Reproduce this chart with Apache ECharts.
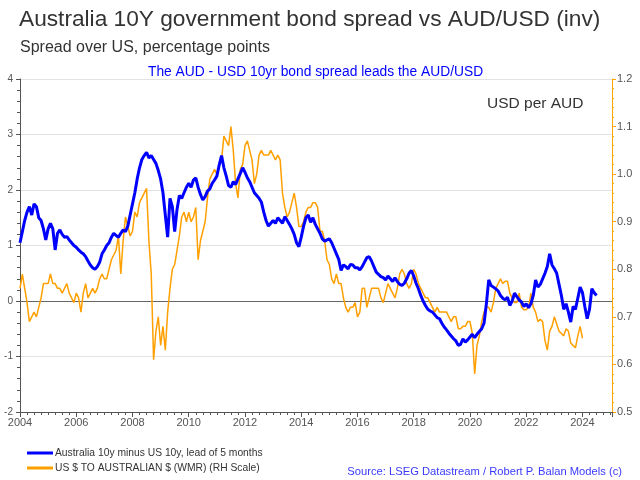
<!DOCTYPE html>
<html><head><meta charset="utf-8">
<script src="https://cdn.jsdelivr.net/npm/echarts@6/dist/echarts.min.js"></script>
<style>html,body{margin:0;padding:0;background:#fff}#c{width:640px;height:480px}</style>
</head><body><div id="c"></div>
<script>
// Monthly values starting January 2004
const startYear = 2004;
const spreadLead = [ // Australia 10y minus US 10y, lead of 5 months (left axis)
  1.05,1.25,1.45,1.6,1.7,1.55,1.75,1.7,1.5,1.45,1.3,1.1,
  1.3,1.4,1.3,0.92,1.22,1.28,1.2,1.15,1.16,1.1,1.05,1.0,
  0.97,0.92,0.88,0.85,0.8,0.72,0.65,0.6,0.57,0.62,0.7,0.85,
  0.92,1.0,1.05,1.15,1.22,1.18,1.15,1.22,1.28,1.25,1.35,1.55,
  1.75,1.95,2.2,2.4,2.55,2.62,2.68,2.58,2.62,2.55,2.48,2.35,
  2.2,1.95,1.55,1.15,1.85,1.7,1.25,1.65,1.9,1.85,1.95,2.05,
  2.12,2.05,2.18,2.22,2.05,1.92,1.82,1.88,1.98,2.02,2.12,2.18,
  2.25,2.45,2.62,2.4,2.25,2.08,2.05,2.15,2.1,2.2,2.3,2.4,
  2.32,2.22,2.15,2.05,1.95,1.9,1.85,1.78,1.6,1.45,1.35,1.4,
  1.45,1.4,1.5,1.45,1.4,1.52,1.45,1.38,1.3,1.2,1.05,0.98,
  1.15,1.35,1.5,1.55,1.42,1.5,1.38,1.3,1.22,1.12,1.08,1.1,
  1.12,1.05,0.95,0.85,0.75,0.55,0.65,0.62,0.58,0.66,0.65,0.6,
  0.6,0.56,0.62,0.7,0.78,0.8,0.72,0.62,0.52,0.48,0.44,0.42,
  0.38,0.45,0.4,0.35,0.42,0.35,0.3,0.28,0.32,0.4,0.5,0.55,
  0.45,0.32,0.22,0.1,0.0,-0.08,-0.15,-0.18,-0.2,-0.25,-0.3,-0.32,
  -0.4,-0.47,-0.52,-0.58,-0.63,-0.68,-0.72,-0.8,-0.78,-0.68,-0.74,-0.7,
  -0.65,-0.6,-0.66,-0.6,-0.55,-0.5,-0.4,-0.05,0.38,0.28,0.25,0.22,
  0.18,0.1,0.05,0.02,0.07,-0.08,0.0,0.14,0.08,0.02,-0.02,-0.1,
  -0.05,-0.12,-0.05,0.1,0.38,0.25,0.3,0.4,0.5,0.62,0.85,0.65,
  0.58,0.5,0.3,0.1,-0.15,-0.05,-0.2,-0.38,-0.1,-0.15,0.05,0.25,
  0.15,-0.1,-0.32,-0.15,0.22,0.15,0.1
];
const audUsd = [ // US $ to Australian $ (WMR), right axis
  0.76,0.79,0.76,0.73,0.69,0.70,0.71,0.70,0.72,0.74,0.77,0.77,
  0.77,0.79,0.77,0.77,0.76,0.76,0.75,0.76,0.77,0.75,0.74,0.73,
  0.75,0.74,0.71,0.75,0.77,0.74,0.75,0.76,0.75,0.76,0.78,0.79,
  0.78,0.78,0.80,0.82,0.83,0.84,0.87,0.79,0.86,0.91,0.89,0.87,
  0.88,0.92,0.91,0.94,0.95,0.96,0.97,0.86,0.79,0.61,0.67,0.70,
  0.64,0.68,0.63,0.71,0.76,0.80,0.81,0.84,0.87,0.91,0.92,0.90,
  0.92,0.90,0.91,0.93,0.82,0.86,0.88,0.90,0.95,0.99,1.00,1.01,
  1.00,1.02,1.03,1.08,1.07,1.06,1.10,1.05,0.98,0.95,1.01,1.02,
  1.06,1.07,1.05,1.03,0.98,1.00,1.04,1.05,1.04,1.04,1.04,1.05,
  1.04,1.03,1.04,1.03,0.96,0.93,0.91,0.92,0.94,0.96,0.93,0.89,
  0.89,0.90,0.92,0.93,0.93,0.94,0.94,0.93,0.88,0.88,0.86,0.82,
  0.81,0.78,0.77,0.79,0.77,0.77,0.74,0.72,0.71,0.72,0.72,0.73,
  0.70,0.71,0.76,0.76,0.72,0.74,0.76,0.76,0.76,0.76,0.74,0.73,
  0.75,0.77,0.76,0.75,0.74,0.76,0.79,0.80,0.79,0.77,0.76,0.77,
  0.80,0.79,0.77,0.76,0.75,0.74,0.74,0.73,0.72,0.71,0.72,0.71,
  0.71,0.71,0.71,0.70,0.69,0.70,0.70,0.675,0.675,0.68,0.68,0.69,
  0.69,0.665,0.58,0.64,0.66,0.69,0.71,0.72,0.72,0.71,0.73,0.76,
  0.77,0.78,0.77,0.775,0.775,0.75,0.74,0.73,0.73,0.75,0.72,0.715,
  0.715,0.72,0.75,0.72,0.71,0.69,0.695,0.69,0.65,0.63,0.67,0.68,
  0.70,0.685,0.67,0.665,0.66,0.675,0.67,0.645,0.64,0.635,0.66,0.68,
  0.655
];
const xTickYears = [2004,2006,2008,2010,2012,2014,2016,2018,2020,2022,2024];
const seriesNames = ['Australia 10y minus US 10y, lead of 5 months', 'US $ TO AUSTRALIAN $ (WMR) (RH Scale)'];

const toPairs = arr => arr.map((v, i) => [startYear + i / 12, v]);
const FONT = "'Liberation Sans', Arial, sans-serif";
const chart = echarts.init(document.getElementById('c'), null, {renderer: 'canvas'});
chart.setOption({
  animation: false,
  backgroundColor: '#fff',
  textStyle: {fontFamily: FONT},
  title: [
    {text: 'Australia 10Y government bond spread vs AUD/USD (inv)', left: 14, top: 3,
     textStyle: {fontSize: 22.7, fontWeight: 'normal', color: '#333', fontFamily: FONT}},
    {text: 'Spread over US, percentage points', left: 15, top: 35,
     textStyle: {fontSize: 16, fontWeight: 'normal', color: '#333', fontFamily: FONT}},
    {text: 'The AUD - USD 10yr bond spread leads the AUD/USD', left: 143, top: 60,
     textStyle: {fontSize: 13.8, fontWeight: 'normal', color: '#0000ff', fontFamily: FONT}},
    {text: 'USD per AUD', left: 482, top: 91,
     textStyle: {fontSize: 15.5, fontWeight: 'normal', color: '#333', fontFamily: FONT}},
    {text: 'Source: LSEG Datastream / Robert P. Balan Models (c)', right: 13, top: 461,
     textStyle: {fontSize: 11.2, fontWeight: 'normal', color: '#3a3aff', fontFamily: FONT}}
  ],
  legend: {
    orient: 'vertical', left: 22, top: 443, itemWidth: 26, itemHeight: 3, itemGap: 5,
    icon: 'rect', data: seriesNames,
    textStyle: {fontSize: 10.3, color: '#333', fontFamily: FONT, padding: [0,0,0,-3]}
  },
  grid: {left: 20, right: 28, top: 79, bottom: 68, containLabel: false},
  xAxis: {
    type: 'value', min: 2004, max: 2025.05, interval: 2,
    axisLine: {onZero: false, lineStyle: {color: '#555'}},
    axisTick: {show: true, length: 5, lineStyle: {color: '#555'}},
    minorTick: {show: true, splitNumber: 8, length: 3, lineStyle: {color: '#555'}},
    axisLabel: {color: '#555', fontSize: 11, margin: 5, showMaxLabel: false,
      formatter: v => xTickYears.indexOf(Math.round(v)) >= 0 && Math.abs(v - Math.round(v)) < 1e-6 ? String(Math.round(v)) : ''},
    splitLine: {show: false}
  },
  yAxis: [
    {type: 'value', position: 'left', min: -2, max: 4, interval: 1,
     axisLine: {show: true, lineStyle: {color: '#555'}},
     axisTick: {show: true, length: 4, lineStyle: {color: '#555'}},
     minorTick: {show: true, splitNumber: 5, length: 3, lineStyle: {color: '#555'}},
     axisLabel: {color: '#555', fontSize: 10, margin: 7},
     splitLine: {show: true, lineStyle: {color: ['#e2e2e2','#e2e2e2','#666','#e2e2e2','#e2e2e2','#e2e2e2','#e2e2e2'], width: 1}}},
    {type: 'value', position: 'right', min: 0.5, max: 1.2, interval: 0.1,
     axisLine: {show: true, lineStyle: {color: '#FFA500'}},
     axisTick: {show: true, length: 4, lineStyle: {color: '#FFA500'}},
     minorTick: {show: true, splitNumber: 5, length: 2, lineStyle: {color: '#FFA500'}},
     axisLabel: {color: '#555', fontSize: 11, margin: 5, formatter: v => v.toFixed(1)},
     splitLine: {show: false}}
  ],
  series: [
    {name: seriesNames[0], type: 'line', yAxisIndex: 0, data: toPairs(spreadLead),
     showSymbol: false, symbol: 'none', lineStyle: {color: '#0000ff', width: 3}, itemStyle: {color: '#0000ff'}, z: 3},
    {name: seriesNames[1], type: 'line', yAxisIndex: 1, data: toPairs(audUsd),
     showSymbol: false, symbol: 'none', lineStyle: {color: '#FFA000', width: 1.5}, itemStyle: {color: '#FFA000'}, z: 2}
  ]
});
</script></body></html>
